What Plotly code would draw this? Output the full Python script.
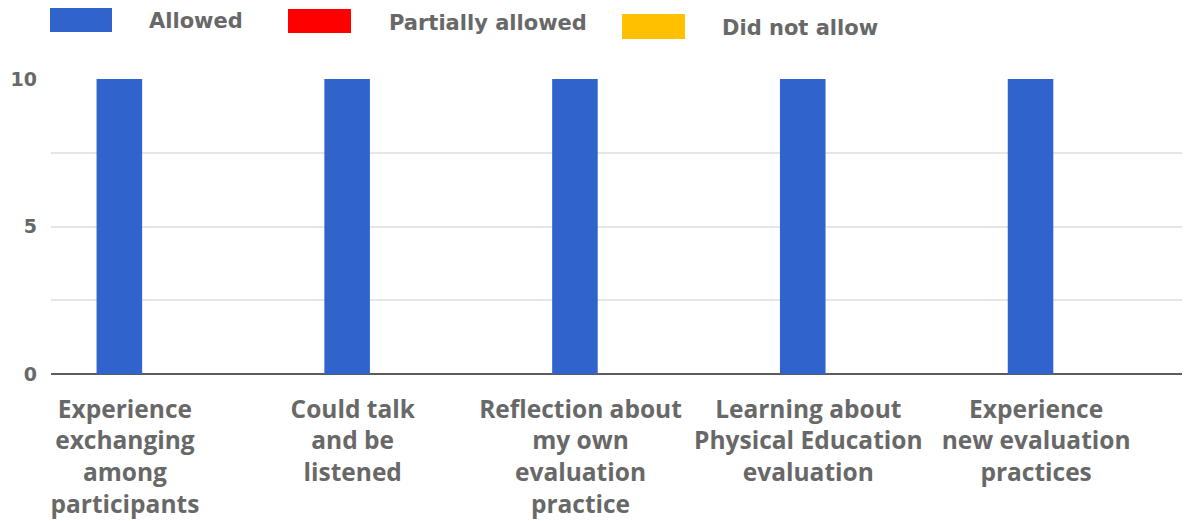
import plotly.graph_objects as go

# ---- data ----
categories = [
    "Experience<br>exchanging<br>among<br>participants",
    "Could talk<br>and be<br>listened",
    "Reflection about<br>my own<br>evaluation<br>practice",
    "Learning about<br>Physical Education<br>evaluation",
    "Experience<br>new evaluation<br>practices",
]
series_names = ["Allowed", "Partially allowed", "Did not allow"]
allowed = [10, 10, 10, 10, 10]
partially_allowed = [0, 0, 0, 0, 0]
did_not_allow = [0, 0, 0, 0, 0]
series_values = [allowed, partially_allowed, did_not_allow]
series_colors = ["#3064cc", "#ff0000", "#ffc000"]
y_tickvals = [0, 2.5, 5, 7.5, 10]
y_ticktext = ["0", "", "5", "", "10"]

# ---- layout constants (pixels, page coords; page body has an 8px margin) ----
OFF = 8
W, H = 1190 - OFF, 521 - OFF
ML, MR, MT, MB = 51 - OFF, 0, 79 - OFF, 147
PW = W - ML - MR
PH = H - MT - MB
TXT = "#686868"


def px2x(px):
    return (px - OFF - ML) / PW


def py2y(py):
    return (H - MB - (py - OFF)) / PH


fig = go.Figure()
for name, vals, col in zip(series_names, series_values, series_colors):
    fig.add_trace(go.Bar(
        x=categories, y=vals, name=name,
        marker=dict(color=col, line=dict(width=0)),
        showlegend=False,
    ))

# custom legend (large swatches as in the reference)
legend_boxes = [(50, 112, 8, 32), (288, 351, 9, 33), (622, 685, 14, 39)]
legend_text_pos = [(147, 21), (387, 23), (720, 28)]
for name, col, (x0, x1, y0, y1), (tx, ty) in zip(series_names, series_colors, legend_boxes, legend_text_pos):
    fig.add_shape(type="rect", xref="paper", yref="paper",
                  x0=px2x(x0), x1=px2x(x1), y0=py2y(y1), y1=py2y(y0),
                  fillcolor=col, line=dict(width=0), layer="above")
    fig.add_annotation(xref="paper", yref="paper", x=px2x(tx), y=py2y(ty),
                       xanchor="left", yanchor="middle", showarrow=False,
                       text=name, font=dict(family="DejaVu Sans", size=21, color=TXT, weight="bold"))

fig.update_layout(
    width=W, height=H,
    margin=dict(l=ML, r=MR, t=MT, b=MB, pad=0),
    paper_bgcolor="white", plot_bgcolor="white",
    barmode="group", bargap=0.4, bargroupgap=0,
    showlegend=False,
)
fig.update_xaxes(
    range=[-0.5, 4.5], showgrid=False, showline=False, ticks="",
    tickfont=dict(family="Open Sans", size=24.5, color=TXT, weight="bold"),
    ticklabelshift=-40, ticklabelstandoff=18, tickangle=0,
)
fig.update_yaxes(
    range=[0, 10], tickvals=y_tickvals, ticktext=y_ticktext,
    showgrid=True, gridcolor="#e6e6e6", gridwidth=1.5,
    zeroline=True, zerolinecolor="#5c5c5c", zerolinewidth=2,
    showline=False, ticks="",
    tickfont=dict(family="DejaVu Sans", size=19, color=TXT, weight="bold"),
    ticklabelstandoff=13,
)

fig.write_html("out.html")
